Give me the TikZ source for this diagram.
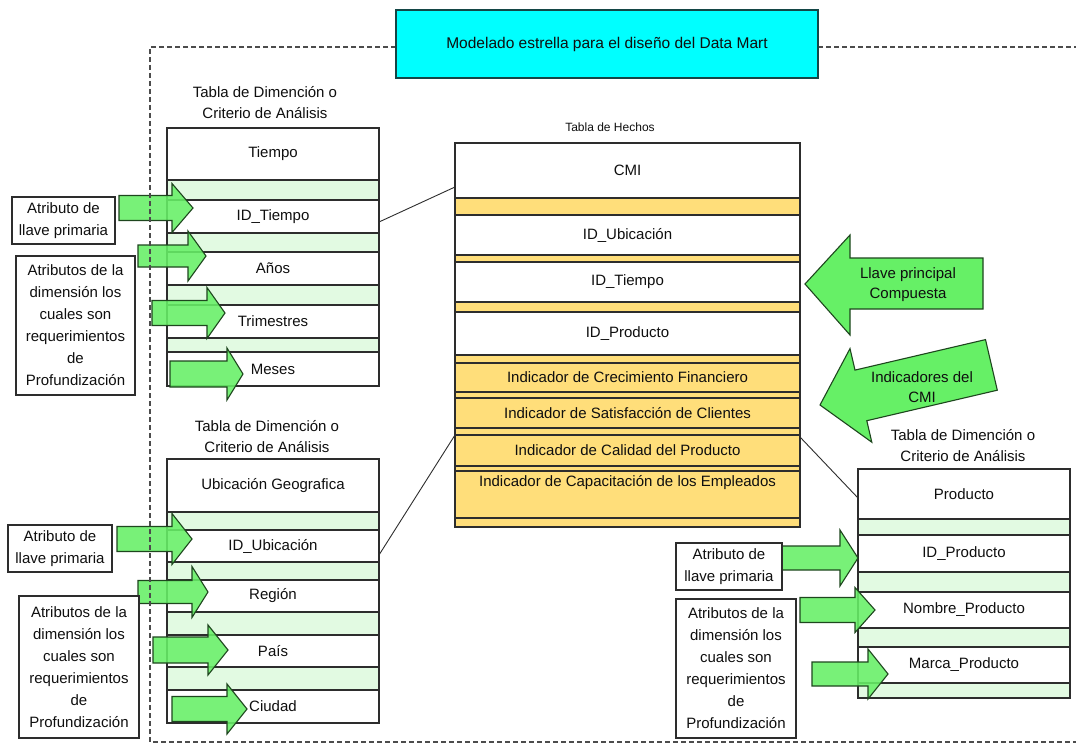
\documentclass[tikz,border=0pt]{standalone}
\usepackage{fontspec}
\setmainfont{Liberation Sans}
\usetikzlibrary{calc}

\definecolor{titlecyan}{RGB}{0,255,255}
\definecolor{titleedge}{RGB}{20,70,70}
\definecolor{tline}{RGB}{45,45,45}
\definecolor{lgreen}{RGB}{226,250,226}
\definecolor{agreen}{RGB}{102,240,102}
\definecolor{aedge}{RGB}{30,70,30}
\definecolor{ygold}{RGB}{255,222,122}
\definecolor{txt}{RGB}{15,15,15}

% block arrow pointing right: tail x, neck x, tip x, centre y, body half, head half
\newcommand\garrow[6]{%
  \filldraw[garr] (#1,#4-#5) -- (#2,#4-#5) -- (#2,#4-#6) -- (#3,#4)
    -- (#2,#4+#6) -- (#2,#4+#5) -- (#1,#4+#5) -- cycle;}

\begin{document}
\begin{tikzpicture}[x=1pt,y=-1pt,
  tabfont/.style={font=\fontsize{15}{18}\selectfont},
  cell/.style={draw=tline, line width=1.3pt, inner sep=0pt, outer sep=0pt,
    anchor=north west, text=txt, tabfont},
  wrow/.style={cell, fill=white},
  gstrip/.style={cell, fill=lgreen},
  yrow/.style={cell, fill=ygold},
  dimw/.style={minimum width=212pt},
  factw/.style={minimum width=345pt},
  hdr/.style={align=center, text=txt, font=\fontsize{15}{21}\selectfont},
  note/.style={draw=tline, line width=1.4pt, fill=white, inner sep=0pt,
    align=center, text=txt, font=\fontsize{15}{22}\selectfont},
  garr/.style={fill=agreen, fill opacity=0.88, draw=aedge, line width=1.1pt},
  link/.style={draw=tline, line width=0.9pt},
  frame/.style={draw=tline!85, line width=1.6pt, dash pattern=on 5pt off 3pt}
]
\useasboundingbox (0,0) rectangle (1076,749);
\fill[white] (0,0) rectangle (1076,749);

% ---------- dimension table: Tiempo ----------
\node[hdr] (h1) at (265,102.5) {Tabla de Dimención o\\Criterio de Análisis};
\node[wrow, dimw, minimum height=52pt] (tiempo) at (167,128) {Tiempo};
\node[gstrip, dimw, minimum height=20pt] (t1) at (167,180) {};
\node[wrow, dimw, minimum height=33pt] (tid) at (167,200) {ID\_Tiempo};
\node[gstrip, dimw, minimum height=19pt] (t2) at (167,233) {};
\node[wrow, dimw, minimum height=33pt] (anios) at (167,252) {Años};
\node[gstrip, dimw, minimum height=20pt] (t3) at (167,285) {};
\node[wrow, dimw, minimum height=33pt] (trim) at (167,305) {Trimestres};
\node[gstrip, dimw, minimum height=14pt] (t4) at (167,338) {};
\node[wrow, dimw, minimum height=34pt] (meses) at (167,352) {Meses};

% ---------- dimension table: Ubicación ----------
\node[hdr] (h2) at (267,437) {Tabla de Dimención o\\Criterio de Análisis};
\node[wrow, dimw, minimum height=53pt] (ubic) at (167,459) {Ubicación Geografica};
\node[gstrip, dimw, minimum height=18pt] (u1) at (167,512) {};
\node[wrow, dimw, minimum height=32pt] (uid) at (167,530) {ID\_Ubicación};
\node[gstrip, dimw, minimum height=18pt] (u2) at (167,562) {};
\node[wrow, dimw, minimum height=32pt] (region) at (167,580) {Región};
\node[gstrip, dimw, minimum height=23pt] (u3) at (167,612) {};
\node[wrow, dimw, minimum height=32pt] (pais) at (167,635) {País};
\node[gstrip, dimw, minimum height=23pt] (u4) at (167,667) {};
\node[wrow, dimw, minimum height=33pt] (ciudad) at (167,690) {Ciudad};

% ---------- fact table ----------
\node[text=txt, font=\fontsize{12}{14}\selectfont] (h3) at (610,127) {Tabla de Hechos};
\node[wrow, factw, minimum height=55pt] (cmi) at (455,143) {CMI};
\node[yrow, factw, minimum height=17pt] (f1) at (455,198) {};
\node[wrow, factw, minimum height=40pt] (hub) at (455,215) {ID\_Ubicación};
\node[yrow, factw, minimum height=7pt] (f2) at (455,255) {};
\node[wrow, factw, minimum height=40pt] (htie) at (455,262) {ID\_Tiempo};
\node[yrow, factw, minimum height=10pt] (f3) at (455,302) {};
\node[wrow, factw, minimum height=43pt] (hprod) at (455,312) {ID\_Producto};
\node[yrow, factw, minimum height=8pt] (f4) at (455,355) {};
\node[yrow, factw, minimum height=29pt] (ind1) at (455,363) {Indicador de Crecimiento Financiero};
\node[yrow, factw, minimum height=6pt] (f5) at (455,392) {};
\node[yrow, factw, minimum height=30pt] (ind2) at (455,398) {Indicador de Satisfacción de Clientes};
\node[yrow, factw, minimum height=7pt] (f6) at (455,428) {};
\node[yrow, factw, minimum height=31pt] (ind3) at (455,435) {Indicador de Calidad del Producto};
\node[yrow, factw, minimum height=5pt] (f7) at (455,466) {};
\node[yrow, factw, minimum height=47pt] (ind4) at (455,471) {};
\node[anchor=north, inner sep=0pt, text=txt, tabfont] (ind4t) at ([yshift=-4pt]ind4.north)
  {Indicador de Capacitación de los Empleados};
\node[yrow, factw, minimum height=9pt] (f8) at (455,518) {};

% ---------- dimension table: Producto ----------
\node[hdr] (h4) at (963,446) {Tabla de Dimención o\\Criterio de Análisis};
\node[wrow, dimw, minimum height=50pt] (prod) at (858,469) {Producto};
\node[gstrip, dimw, minimum height=16pt] (p1) at (858,519) {};
\node[wrow, dimw, minimum height=37pt] (pid) at (858,535) {ID\_Producto};
\node[gstrip, dimw, minimum height=20pt] (p2) at (858,572) {};
\node[wrow, dimw, minimum height=36pt] (pnom) at (858,592) {Nombre\_Producto};
\node[gstrip, dimw, minimum height=19pt] (p3) at (858,628) {};
\node[wrow, dimw, minimum height=36pt] (pmar) at (858,647) {Marca\_Producto};
\node[gstrip, dimw, minimum height=15pt] (p4) at (858,683) {};

% ---------- links between tables ----------
\draw[link] ([yshift=-5.5pt]tid.east) -- ([yshift=11pt]cmi.south west);
\draw[link] ([yshift=-9pt]uid.east) -- (ind3.north west);
\draw[link] ([yshift=-2pt]ind3.north east) -- ([yshift=-4pt]prod.west);

% ---------- attribute arrows ----------
\garrow{119}{172}{193}{208}{12.5}{24.5}
\garrow{138}{188}{206}{256}{11}{25}
\garrow{152}{207}{225}{313}{12.5}{25.5}
\garrow{170}{227}{243}{374}{13}{26}

\garrow{117}{172}{192}{539}{12.5}{25.5}
\garrow{138}{192}{208}{592}{11.5}{25.5}
\garrow{153}{208}{228}{650}{13}{25}
\garrow{172}{227}{247}{709}{12.5}{25}

\garrow{782}{840}{858}{558}{12}{28}
\garrow{800}{855}{875}{610}{12.5}{22.5}
\garrow{812}{868}{888}{674}{12}{25}

% ---------- side notes ----------
\node[note, minimum width=103pt, minimum height=47pt] (n1) at (63.5,220.5) {Atributo de\\llave primaria};
\node[note, minimum width=119pt, minimum height=139pt] (n2) at (75.5,325.5)
  {Atributos de la\\dimensión los\\cuales son\\requerimientos\\de\\Profundización};
\node[note, minimum width=104pt, minimum height=47pt] (n3) at (60,548.5) {Atributo de\\llave primaria};
\node[note, minimum width=120pt, minimum height=142pt] (n4) at (79,667)
  {Atributos de la\\dimensión los\\cuales son\\requerimientos\\de\\Profundización};
\node[note, minimum width=106pt, minimum height=47pt] (n5) at (729,566.5) {Atributo de\\llave primaria};
\node[note, minimum width=120pt, minimum height=139pt] (n6) at (736,668.5)
  {Atributos de la\\dimensión los\\cuales son\\requerimientos\\de\\Profundización};

% ---------- large callout arrows ----------
\filldraw[garr, fill opacity=1] (983,258) -- (850,258) -- (850,235) -- (805,284)
  -- (850,335) -- (850,309) -- (983,309) -- cycle;
\node[align=center, text=txt, font=\fontsize{15}{20}\selectfont] (llave) at (908,285)
  {Llave principal\\Compuesta};

\filldraw[garr, fill opacity=1] (985.5,339.6) -- (855,370.1) -- (850,348.6) -- (820,405)
  -- (871.8,442.2) -- (866.8,420.7) -- (997.3,390.2) -- cycle;
\node[align=center, text=txt, font=\fontsize{15}{20}\selectfont] (indic) at (922,387)
  {Indicadores del\\CMI};

% ---------- dashed frame and title ----------
\draw[frame] (396,47) -- (150,47) -- (150,742) -- (1076,742);
\draw[frame] (818,47) -- (1076,47);
\node[draw=titleedge, line width=1.4pt, fill=titlecyan, minimum width=422pt,
  minimum height=68pt, inner sep=0pt, text=txt, font=\fontsize{15.5}{18}\selectfont]
  (title) at (607,44) {Modelado estrella para el diseño del Data Mart};
\end{tikzpicture}
\end{document}
